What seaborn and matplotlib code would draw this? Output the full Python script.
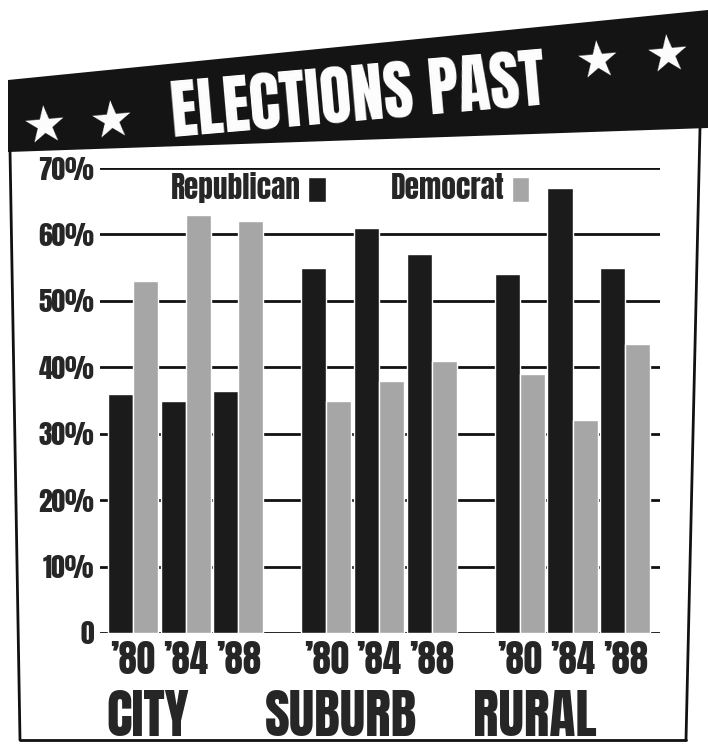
import numpy as np
import pandas as pd
import matplotlib
matplotlib.use("Agg")
import matplotlib.pyplot as plt
import seaborn as sns
from matplotlib import font_manager as fm
from matplotlib.patches import Polygon
from matplotlib.lines import Line2D
from matplotlib.transforms import blended_transform_factory

# ---- data ----
regions = ["CITY", "SUBURB", "RURAL"]
years = ["\u201980", "\u201984", "\u201988"]
republican = [36, 35, 36.5, 55, 61, 57, 54, 67, 55]
democrat = [53, 63, 62, 35, 38, 41, 39, 32, 43.5]
parties = ["Republican", "Democrat"]
yticks = [0, 10, 20, 30, 40, 50, 60, 70]
ytick_labels = ["0", "10%", "20%", "30%", "40%", "50%", "60%", "70%"]
title = "ELECTIONS PAST"

# ---- style ----
sns.set_theme(style="white")
names = {f.name for f in fm.fontManager.ttflist}
cond = next((n for n in ["Anton", "Oswald", "Fjalla One", "Barlow Condensed", "Liberation Sans"]
             if n in names), "DejaVu Sans")
WEIGHT = "normal" if cond in ("Anton", "Fjalla One") else "bold"
plt.rcParams["font.family"] = [cond, "DejaVu Sans"]
plt.rcParams["font.weight"] = WEIGHT

W, H = 708, 748
def fx(x):
    return x / W
def fy(y):
    return 1 - y / H

fig = plt.figure(figsize=(W / 100, H / 100), dpi=100)
fig.patch.set_facecolor("white")
renderer = fig.canvas.get_renderer()

def fit_size(text, target_w, base=20):
    t = fig.text(0, 0, text, fontsize=base, fontweight=WEIGHT)
    w = t.get_window_extent(renderer).width
    t.remove()
    return base * target_w / w

# header band
band = Polygon([(fx(8), fy(80)), (fx(708), fy(10)), (fx(708), fy(128)), (fx(8), fy(152))],
               closed=True, facecolor="#141414", edgecolor="none", transform=fig.transFigure)
fig.add_artist(band)
fig.text(fx(358), fy(97), title, color="white", fontsize=fit_size(title, 374), fontweight=WEIGHT,
         ha="center", va="center", rotation=5, rotation_mode="anchor")
for (sx, sy) in [(45, 127), (112, 122), (598, 62), (668, 56)]:
    fig.text(fx(sx), fy(sy), "\u2605", color="white", fontsize=36, family="DejaVu Sans",
             ha="center", va="center", rotation=5)

# frame
for (x0, y0, x1, y1) in [(10, 150, 20, 740), (20, 740, 686, 740), (700, 128, 686, 740)]:
    fig.add_artist(Line2D([fx(x0), fx(x1)], [fy(y0), fy(y1)], color="#111111", lw=2,
                          transform=fig.transFigure))

# ---- chart ----
ax = fig.add_axes([fx(100), fy(633), fx(660) - fx(100), fy(168) - fy(633)])
GROUP_PITCH = 3.67
rows = []
positions = []
for gi, r in enumerate(regions):
    for yi, y in enumerate(years):
        pos = gi * GROUP_PITCH + yi
        positions.append(pos)
        k = gi * 3 + yi
        rows.append(dict(pos=pos, party="Republican", share=republican[k]))
        rows.append(dict(pos=pos, party="Democrat", share=democrat[k]))
df = pd.DataFrame(rows)

sns.barplot(data=df, x="pos", y="share", hue="party", hue_order=parties,
            palette={"Republican": "#1b1b1b", "Democrat": "#a6a6a6"},
            native_scale=True, width=0.95, saturation=1, ax=ax, errorbar=None, zorder=3)

ax.set_xlim(-0.625, 10.0)
ax.set_ylim(0, 70)
ax.set_axisbelow(True)
ax.yaxis.grid(True, color="#111111", lw=2)
ax.xaxis.grid(False)
for s in ax.spines.values():
    s.set_visible(False)
ax.set_yticks(yticks, ytick_labels)
ax.set_xticks(positions, years * 3)
ax.tick_params(axis="y", length=0, pad=4, labelsize=fit_size("70%", 56))
ax.tick_params(axis="x", length=0, pad=6, labelsize=fit_size("\u201980", 45))
for lab in ax.get_xticklabels() + ax.get_yticklabels():
    lab.set_fontweight(WEIGHT)
ax.set_xlabel("")
ax.set_ylabel("")

trans = blended_transform_factory(ax.transData, ax.transAxes)
grp_size = fit_size("SUBURB", 152)
for gi, r in enumerate(regions):
    ax.text(gi * GROUP_PITCH + 1 - 0.72, -0.18, r, transform=trans, ha="center", va="center",
            fontsize=grp_size, fontweight=WEIGHT)

handles, labels = ax.get_legend_handles_labels()
ax.legend(handles, labels, ncol=2, markerfirst=False, frameon=False, loc="center left",
          bbox_to_anchor=(0.10, 0.957), handlelength=0.6, handleheight=0.9,
          handletextpad=0.25, columnspacing=2.2, borderpad=0,
          prop={"weight": WEIGHT, "size": fit_size("Republican", 130)})

fig.savefig("out.png", dpi=100, facecolor="white")
